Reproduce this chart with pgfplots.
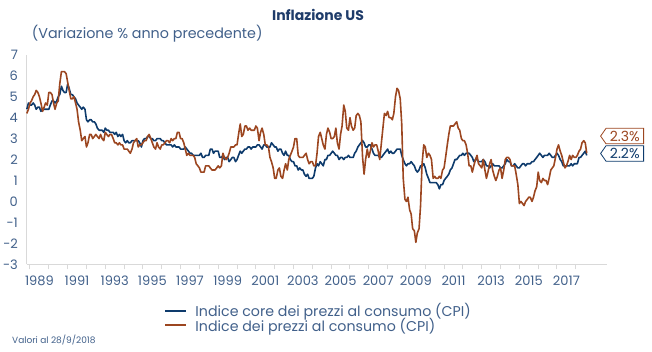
\documentclass[border=0pt]{standalone}
\usepackage{pgfplots}
\pgfplotsset{compat=1.18}
\usepackage{fontspec}
\setmainfont{Poppins}
\usetikzlibrary{shapes.symbols}
\definecolor{navy}{HTML}{0E3B6C}
\definecolor{rust}{HTML}{9C4620}
\definecolor{txt}{HTML}{41608A}
\definecolor{ttl}{HTML}{1F3C6A}
\definecolor{axg}{HTML}{D9D9D9}
\begin{document}
\begin{tikzpicture}
\path[use as bounding box] (0,0) rectangle (652pt,352pt);
\begin{axis}[
  at={(26.7pt,87.7pt)}, anchor=south west,
  width=580pt, height=209.5pt, scale only axis,
  xmin=1988.825, xmax=2019.64, ymin=-3, ymax=7,
  axis lines*=left,
  axis line style={axg, line width=1pt},
  ytick={-3,...,7},
  major y tick style={draw=none},
  xtick={1989.5,1991.5,...,2017.5},
  xticklabels={1989,1991,1993,1995,1997,1999,2001,2003,2005,2007,2009,2011,2013,2015,2017},
  major x tick style={draw=none},
  minor xtick={1989,...,2018},
  minor x tick style={axg, line width=1pt},
  tick align=outside, minor tick length=5pt,
  tick label style={font=\fontsize{13}{15}\selectfont, text=txt},
  /pgf/number format/assume math mode=true,
  yticklabel style={xshift=-1pt},
  xticklabel style={yshift=-4pt},
  clip=false,
  legend style={at={(0.2372,-0.175)}, anchor=north west, draw=none, fill=none,
    font=\fontsize{14.2}{16}\selectfont, text=txt, inner sep=0pt,
    row sep=-4pt, nodes={inner sep=2pt}},
  legend cell align=left,
  legend image code/.code={\draw[#1, line width=2pt, line cap=butt] (0pt,0pt) -- (21pt,0pt);},
]
\addplot[navy, line width=1.6pt, line join=round] coordinates {
(1988.83,4.4)(1988.92,4.7)
(1989.00,4.6)(1989.08,4.6)(1989.17,4.7)(1989.25,4.6)(1989.33,4.4)(1989.42,4.5)(1989.50,4.5)(1989.58,4.3)(1989.67,4.4)(1989.75,4.4)(1989.83,4.4)(1989.92,4.4)
(1990.00,4.4)(1990.08,4.6)(1990.17,4.8)(1990.25,4.8)(1990.33,4.7)(1990.42,4.8)(1990.50,5.0)(1990.58,5.1)(1990.67,5.5)(1990.75,5.3)(1990.83,5.2)(1990.92,5.2)
(1991.00,5.6)(1991.08,5.4)(1991.17,5.1)(1991.25,5.1)(1991.33,5.0)(1991.42,4.9)(1991.50,4.7)(1991.58,4.6)(1991.67,4.5)(1991.75,4.4)(1991.83,4.5)(1991.92,4.4)
(1992.00,3.9)(1992.08,3.8)(1992.17,3.9)(1992.25,3.9)(1992.33,3.8)(1992.42,3.8)(1992.50,3.7)(1992.58,3.5)(1992.67,3.4)(1992.75,3.4)(1992.83,3.4)(1992.92,3.3)
(1993.00,3.5)(1993.08,3.4)(1993.17,3.4)(1993.25,3.3)(1993.33,3.3)(1993.42,3.3)(1993.50,3.2)(1993.58,3.3)(1993.67,3.1)(1993.75,3.2)(1993.83,3.1)(1993.92,3.2)
(1994.00,2.9)(1994.08,2.8)(1994.17,2.9)(1994.25,2.8)(1994.33,2.8)(1994.42,2.9)(1994.50,2.9)(1994.58,2.9)(1994.67,2.9)(1994.75,2.9)(1994.83,2.8)(1994.92,2.6)
(1995.00,2.9)(1995.08,3.0)(1995.17,3.0)(1995.25,3.1)(1995.33,3.1)(1995.42,3.0)(1995.50,3.0)(1995.58,2.9)(1995.67,2.9)(1995.75,3.0)(1995.83,3.0)(1995.92,3.0)
(1996.00,2.9)(1996.08,2.9)(1996.17,2.8)(1996.25,2.7)(1996.33,2.7)(1996.42,2.7)(1996.50,2.7)(1996.58,2.6)(1996.67,2.7)(1996.75,2.6)(1996.83,2.6)(1996.92,2.6)
(1997.00,2.5)(1997.08,2.5)(1997.17,2.5)(1997.25,2.6)(1997.33,2.5)(1997.42,2.4)(1997.50,2.3)(1997.58,2.3)(1997.67,2.2)(1997.75,2.2)(1997.83,2.2)(1997.92,2.2)
(1998.00,2.2)(1998.08,2.3)(1998.17,2.1)(1998.25,2.1)(1998.33,2.2)(1998.42,2.2)(1998.50,2.2)(1998.58,2.5)(1998.67,2.5)(1998.75,2.3)(1998.83,2.4)(1998.92,2.4)
(1999.00,2.4)(1999.08,2.1)(1999.17,2.1)(1999.25,2.2)(1999.33,2.0)(1999.42,2.1)(1999.50,2.1)(1999.58,1.9)(1999.67,2.0)(1999.75,2.1)(1999.83,2.1)(1999.92,1.9)
(2000.00,2.0)(2000.08,2.2)(2000.17,2.4)(2000.25,2.3)(2000.33,2.4)(2000.42,2.5)(2000.50,2.5)(2000.58,2.6)(2000.67,2.6)(2000.75,2.5)(2000.83,2.6)(2000.92,2.6)
(2001.00,2.6)(2001.08,2.7)(2001.17,2.7)(2001.25,2.6)(2001.33,2.5)(2001.42,2.7)(2001.50,2.7)(2001.58,2.6)(2001.67,2.6)(2001.75,2.6)(2001.83,2.8)(2001.92,2.7)
(2002.00,2.6)(2002.08,2.6)(2002.17,2.4)(2002.25,2.5)(2002.33,2.5)(2002.42,2.3)(2002.50,2.2)(2002.58,2.4)(2002.67,2.2)(2002.75,2.2)(2002.83,2.0)(2002.92,1.9)
(2003.00,1.9)(2003.08,1.7)(2003.17,1.7)(2003.25,1.5)(2003.33,1.6)(2003.42,1.5)(2003.50,1.5)(2003.58,1.3)(2003.67,1.2)(2003.75,1.3)(2003.83,1.1)(2003.92,1.1)
(2004.00,1.1)(2004.08,1.2)(2004.17,1.6)(2004.25,1.8)(2004.33,1.7)(2004.42,1.9)(2004.50,1.8)(2004.58,1.7)(2004.67,2.0)(2004.75,2.0)(2004.83,2.2)(2004.92,2.2)
(2005.00,2.3)(2005.08,2.4)(2005.17,2.3)(2005.25,2.2)(2005.33,2.2)(2005.42,2.0)(2005.50,2.1)(2005.58,2.1)(2005.67,2.0)(2005.75,2.1)(2005.83,2.1)(2005.92,2.2)
(2006.00,2.1)(2006.08,2.1)(2006.17,2.1)(2006.25,2.3)(2006.33,2.4)(2006.42,2.6)(2006.50,2.7)(2006.58,2.8)(2006.67,2.9)(2006.75,2.8)(2006.83,2.6)(2006.92,2.6)
(2007.00,2.7)(2007.08,2.7)(2007.17,2.5)(2007.25,2.3)(2007.33,2.2)(2007.42,2.2)(2007.50,2.2)(2007.58,2.1)(2007.67,2.1)(2007.75,2.2)(2007.83,2.3)(2007.92,2.4)
(2008.00,2.5)(2008.08,2.3)(2008.17,2.4)(2008.25,2.3)(2008.33,2.3)(2008.42,2.4)(2008.50,2.5)(2008.58,2.5)(2008.67,2.5)(2008.75,2.2)(2008.83,2.0)(2008.92,1.8)
(2009.00,1.7)(2009.08,1.8)(2009.17,1.8)(2009.25,1.9)(2009.33,1.8)(2009.42,1.7)(2009.50,1.5)(2009.58,1.4)(2009.67,1.5)(2009.75,1.7)(2009.83,1.7)(2009.92,1.8)
(2010.00,1.6)(2010.08,1.3)(2010.17,1.1)(2010.25,0.9)(2010.33,0.9)(2010.42,0.9)(2010.50,0.9)(2010.58,0.9)(2010.67,0.8)(2010.75,0.6)(2010.83,0.8)(2010.92,0.8)
(2011.00,1.0)(2011.08,1.1)(2011.17,1.2)(2011.25,1.3)(2011.33,1.5)(2011.42,1.6)(2011.50,1.8)(2011.58,2.0)(2011.67,2.0)(2011.75,2.1)(2011.83,2.2)(2011.92,2.2)
(2012.00,2.3)(2012.08,2.2)(2012.17,2.3)(2012.25,2.3)(2012.33,2.3)(2012.42,2.2)(2012.50,2.1)(2012.58,1.9)(2012.67,2.0)(2012.75,2.0)(2012.83,1.9)(2012.92,1.9)
(2013.00,1.9)(2013.08,2.0)(2013.17,1.9)(2013.25,1.7)(2013.33,1.7)(2013.42,1.6)(2013.50,1.7)(2013.58,1.8)(2013.67,1.7)(2013.75,1.7)(2013.83,1.7)(2013.92,1.7)
(2014.00,1.6)(2014.08,1.6)(2014.17,1.7)(2014.25,1.8)(2014.33,2.0)(2014.42,1.9)(2014.50,1.9)(2014.58,1.7)(2014.67,1.7)(2014.75,1.8)(2014.83,1.7)(2014.92,1.6)
(2015.00,1.6)(2015.08,1.7)(2015.17,1.8)(2015.25,1.8)(2015.33,1.7)(2015.42,1.8)(2015.50,1.8)(2015.58,1.8)(2015.67,1.9)(2015.75,1.9)(2015.83,2.0)(2015.92,2.1)
(2016.00,2.2)(2016.08,2.3)(2016.17,2.2)(2016.25,2.1)(2016.33,2.2)(2016.42,2.2)(2016.50,2.2)(2016.58,2.3)(2016.67,2.2)(2016.75,2.1)(2016.83,2.1)(2016.92,2.2)
(2017.00,2.3)(2017.08,2.2)(2017.17,2.0)(2017.25,1.9)(2017.33,1.7)(2017.42,1.7)(2017.50,1.7)(2017.58,1.7)(2017.67,1.7)(2017.75,1.8)(2017.83,1.7)(2017.92,1.8)
(2018.00,1.8)(2018.08,1.8)(2018.17,2.1)(2018.25,2.1)(2018.33,2.2)(2018.42,2.3)(2018.50,2.4)(2018.58,2.2)
};
\addlegendentry{\hspace*{6pt}Indice core dei prezzi al consumo (CPI)}
\addplot[rust, line width=1.6pt, line join=round] coordinates {
(1988.83,4.2)(1988.92,4.4)
(1989.00,4.7)(1989.08,4.8)(1989.17,5.0)(1989.25,5.1)(1989.33,5.3)(1989.42,5.2)(1989.50,5.0)(1989.58,4.7)(1989.67,4.3)(1989.75,4.5)(1989.83,4.7)(1989.92,4.6)
(1990.00,5.2)(1990.08,5.2)(1990.17,5.1)(1990.25,4.7)(1990.33,4.4)(1990.42,4.7)(1990.50,4.8)(1990.58,5.6)(1990.67,6.2)(1990.75,6.2)(1990.83,6.2)(1990.92,6.1)
(1991.00,5.7)(1991.08,5.3)(1991.17,4.9)(1991.25,4.9)(1991.33,5.0)(1991.42,4.7)(1991.50,4.4)(1991.58,3.8)(1991.67,3.4)(1991.75,2.9)(1991.83,3.0)(1991.92,3.1)
(1992.00,2.6)(1992.08,2.8)(1992.17,3.2)(1992.25,3.2)(1992.33,3.0)(1992.42,3.1)(1992.50,3.2)(1992.58,3.1)(1992.67,3.0)(1992.75,3.2)(1992.83,3.0)(1992.92,2.9)
(1993.00,3.3)(1993.08,3.2)(1993.17,3.1)(1993.25,3.2)(1993.33,3.2)(1993.42,3.0)(1993.50,2.8)(1993.58,2.8)(1993.67,2.7)(1993.75,2.8)(1993.83,2.7)(1993.92,2.7)
(1994.00,2.5)(1994.08,2.5)(1994.17,2.5)(1994.25,2.4)(1994.33,2.3)(1994.42,2.5)(1994.50,2.8)(1994.58,2.9)(1994.67,3.0)(1994.75,2.6)(1994.83,2.7)(1994.92,2.7)
(1995.00,2.8)(1995.08,2.9)(1995.17,2.9)(1995.25,3.1)(1995.33,3.2)(1995.42,3.0)(1995.50,2.8)(1995.58,2.6)(1995.67,2.5)(1995.75,2.8)(1995.83,2.6)(1995.92,2.5)
(1996.00,2.7)(1996.08,2.7)(1996.17,2.8)(1996.25,2.9)(1996.33,2.9)(1996.42,2.8)(1996.50,3.0)(1996.58,2.9)(1996.67,3.0)(1996.75,3.0)(1996.83,3.3)(1996.92,3.3)
(1997.00,3.0)(1997.08,3.0)(1997.17,2.8)(1997.25,2.5)(1997.33,2.2)(1997.42,2.3)(1997.50,2.2)(1997.58,2.2)(1997.67,2.2)(1997.75,2.1)(1997.83,1.8)(1997.92,1.7)
(1998.00,1.6)(1998.08,1.4)(1998.17,1.4)(1998.25,1.4)(1998.33,1.7)(1998.42,1.7)(1998.50,1.7)(1998.58,1.6)(1998.67,1.5)(1998.75,1.5)(1998.83,1.5)(1998.92,1.6)
(1999.00,1.7)(1999.08,1.6)(1999.17,1.7)(1999.25,2.3)(1999.33,2.1)(1999.42,2.0)(1999.50,2.1)(1999.58,2.3)(1999.67,2.6)(1999.75,2.6)(1999.83,2.6)(1999.92,2.7)
(2000.00,2.7)(2000.08,3.2)(2000.17,3.7)(2000.25,3.1)(2000.33,3.2)(2000.42,3.6)(2000.50,3.6)(2000.58,3.4)(2000.67,3.5)(2000.75,3.4)(2000.83,3.4)(2000.92,3.4)
(2001.00,3.6)(2001.08,3.5)(2001.17,2.9)(2001.25,3.3)(2001.33,3.5)(2001.42,3.2)(2001.50,2.7)(2001.58,2.7)(2001.67,2.6)(2001.75,2.1)(2001.83,1.9)(2001.92,1.6)
(2002.00,1.1)(2002.08,1.1)(2002.17,1.5)(2002.25,1.6)(2002.33,1.2)(2002.42,1.1)(2002.50,1.5)(2002.58,1.8)(2002.67,1.5)(2002.75,2.0)(2002.83,2.2)(2002.92,2.4)
(2003.00,2.6)(2003.08,3.0)(2003.17,3.0)(2003.25,2.2)(2003.33,2.1)(2003.42,2.1)(2003.50,2.1)(2003.58,2.2)(2003.67,2.3)(2003.75,2.0)(2003.83,1.8)(2003.92,1.9)
(2004.00,1.9)(2004.08,1.7)(2004.17,1.7)(2004.25,2.3)(2004.33,3.1)(2004.42,3.3)(2004.50,3.0)(2004.58,2.7)(2004.67,2.5)(2004.75,3.2)(2004.83,3.5)(2004.92,3.3)
(2005.00,3.0)(2005.08,3.0)(2005.17,3.1)(2005.25,3.5)(2005.33,2.8)(2005.42,2.5)(2005.50,3.2)(2005.58,3.6)(2005.67,4.6)(2005.75,4.3)(2005.83,3.5)(2005.92,3.4)
(2006.00,4.0)(2006.08,3.6)(2006.17,3.4)(2006.25,3.5)(2006.33,4.1)(2006.42,4.2)(2006.50,4.1)(2006.58,3.8)(2006.67,2.1)(2006.75,1.3)(2006.83,2.0)(2006.92,2.5)
(2007.00,2.1)(2007.08,2.4)(2007.17,2.8)(2007.25,2.6)(2007.33,2.7)(2007.42,2.7)(2007.50,2.4)(2007.58,2.0)(2007.67,2.8)(2007.75,3.5)(2007.83,4.2)(2007.92,4.1)
(2008.00,4.3)(2008.08,4.0)(2008.17,4.0)(2008.25,3.9)(2008.33,4.2)(2008.42,5.0)(2008.50,5.4)(2008.58,5.3)(2008.67,4.9)(2008.75,3.7)(2008.83,1.1)(2008.92,0.1)
(2009.00,0.0)(2009.08,0.2)(2009.17,-0.4)(2009.25,-0.6)(2009.33,-1.3)(2009.42,-1.4)(2009.50,-1.95)(2009.58,-1.5)(2009.67,-1.3)(2009.75,-0.2)(2009.83,1.8)(2009.92,2.7)
(2010.00,2.6)(2010.08,2.1)(2010.17,2.3)(2010.25,2.2)(2010.33,2.0)(2010.42,1.1)(2010.50,1.2)(2010.58,1.1)(2010.67,1.1)(2010.75,1.2)(2010.83,1.1)(2010.92,1.5)
(2011.00,1.6)(2011.08,2.1)(2011.17,2.7)(2011.25,3.2)(2011.33,3.6)(2011.42,3.6)(2011.50,3.6)(2011.58,3.7)(2011.67,3.8)(2011.75,3.5)(2011.83,3.4)(2011.92,3.0)
(2012.00,2.9)(2012.08,2.9)(2012.17,2.7)(2012.25,2.3)(2012.33,1.7)(2012.42,1.7)(2012.50,1.4)(2012.58,1.7)(2012.67,2.0)(2012.75,2.2)(2012.83,1.8)(2012.92,1.7)
(2013.00,1.6)(2013.08,2.0)(2013.17,1.5)(2013.25,1.1)(2013.33,1.4)(2013.42,1.8)(2013.50,2.0)(2013.58,1.5)(2013.67,1.2)(2013.75,1.0)(2013.83,1.2)(2013.92,1.5)
(2014.00,1.6)(2014.08,1.1)(2014.17,1.5)(2014.25,2.0)(2014.33,2.1)(2014.42,2.1)(2014.50,2.0)(2014.58,1.7)(2014.67,1.7)(2014.75,1.7)(2014.83,1.3)(2014.92,0.8)
(2015.00,-0.1)(2015.08,0.0)(2015.17,-0.1)(2015.25,-0.2)(2015.33,0.0)(2015.42,0.1)(2015.50,0.2)(2015.58,0.2)(2015.67,0.0)(2015.75,0.2)(2015.83,0.5)(2015.92,0.7)
(2016.00,1.4)(2016.08,1.0)(2016.17,0.9)(2016.25,1.1)(2016.33,1.0)(2016.42,1.0)(2016.50,0.8)(2016.58,1.1)(2016.67,1.5)(2016.75,1.6)(2016.83,1.7)(2016.92,2.1)
(2017.00,2.5)(2017.08,2.7)(2017.17,2.4)(2017.25,2.2)(2017.33,1.9)(2017.42,1.6)(2017.50,1.7)(2017.58,1.9)(2017.67,2.2)(2017.75,2.0)(2017.83,2.2)(2017.92,2.1)
(2018.00,2.1)(2018.08,2.2)(2018.17,2.4)(2018.25,2.5)(2018.33,2.8)(2018.42,2.9)(2018.50,2.8)(2018.58,2.3)
};
\addlegendentry{\hspace*{6pt}Indice dei prezzi al consumo (CPI)}
\node[signal, signal to=west, signal pointer angle=110, draw=rust, line width=0.8pt, fill=white, text=rust,
  font=\fontsize{14}{16}\selectfont, inner sep=1.5pt, minimum height=15.5pt, minimum width=43pt, anchor=west] at (axis cs:2019.29,3.12) {2.3\%};
\node[signal, signal to=west, signal pointer angle=110, draw=navy, line width=0.8pt, fill=white, text=navy,
  font=\fontsize{14}{16}\selectfont, inner sep=1.5pt, minimum height=15.5pt, minimum width=43pt, anchor=west] at (axis cs:2019.29,2.29) {2.2\%};
\end{axis}
\node[font=\bfseries\fontsize{14}{16}\selectfont, text=ttl] at (318pt,337pt) {Inflazione US};
\node[font=\fontsize{14.3}{16}\selectfont, text=txt, anchor=west, inner sep=0pt] at (31.7pt,318.7pt) {(Variazione \% anno precedente)};
\node[font=\fontsize{9}{10}\selectfont, text=txt, anchor=west, inner sep=0pt] at (12pt,12pt) {Valori al 28/9/2018};
\end{tikzpicture}
\end{document}
